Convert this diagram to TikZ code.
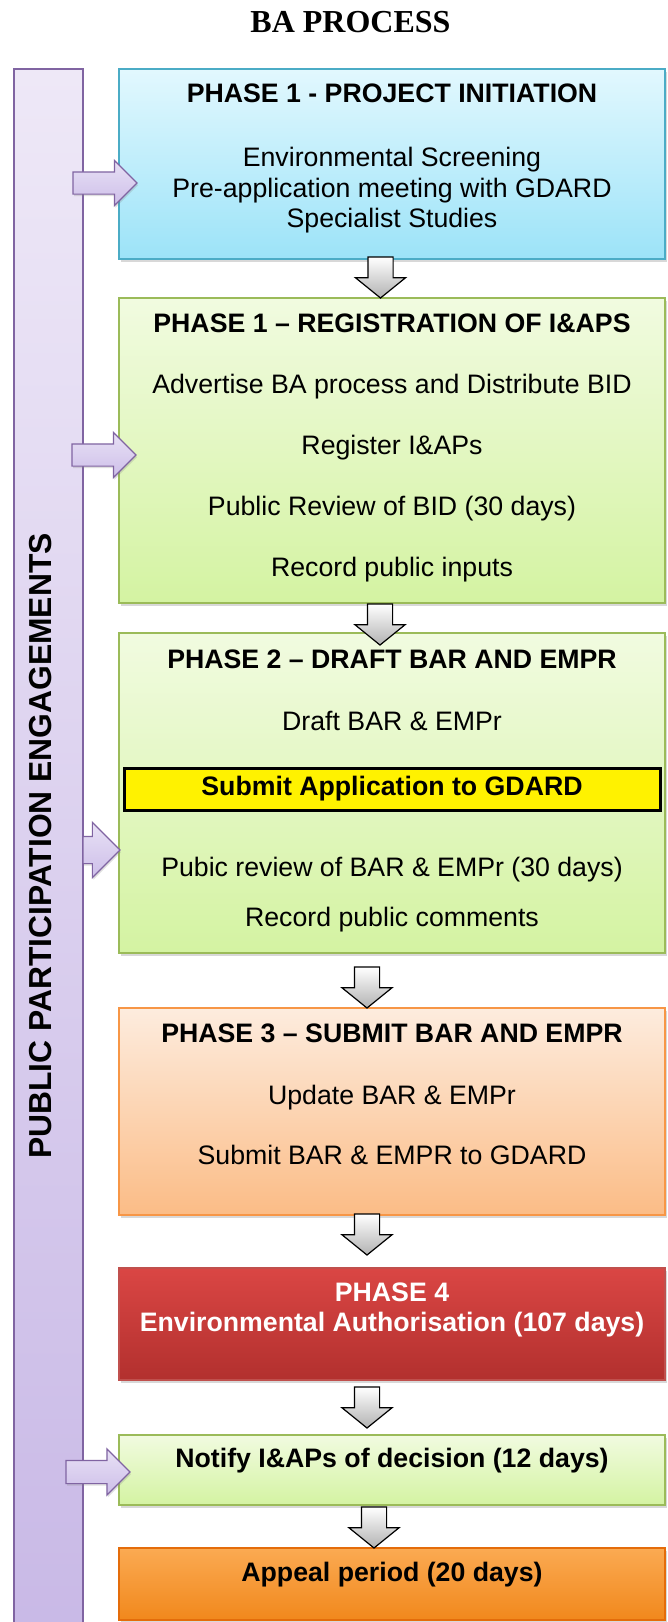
\documentclass[tikz,border=0pt]{standalone}
\usepackage{fontspec}
\setmainfont{Liberation Sans}
\newfontfamily\ttlfont{Liberation Serif}
\usetikzlibrary{positioning, calc, shapes.arrows, shadows}

\definecolor{ppeline}{RGB}{128,100,162}
\definecolor{ppetop}{RGB}{238,232,247}
\definecolor{ppebot}{RGB}{200,184,230}
\definecolor{arrtop}{RGB}{232,225,245}
\definecolor{arrbot}{RGB}{205,190,233}
\definecolor{blueline}{RGB}{75,172,198}
\definecolor{bluetop}{RGB}{226,248,254}
\definecolor{bluebot}{RGB}{156,227,248}
\definecolor{greenline}{RGB}{155,187,89}
\definecolor{greentop}{RGB}{241,251,224}
\definecolor{greenbot}{RGB}{212,243,162}
\definecolor{peachline}{RGB}{247,150,70}
\definecolor{peachtop}{RGB}{253,236,222}
\definecolor{peachbot}{RGB}{251,188,134}
\definecolor{redline}{RGB}{192,80,77}
\definecolor{redtop}{RGB}{218,70,68}
\definecolor{redbot}{RGB}{178,48,46}
\definecolor{orangeline}{RGB}{228,108,10}
\definecolor{orangetop}{RGB}{251,170,82}
\definecolor{orangebot}{RGB}{241,136,28}
\definecolor{flowbot}{RGB}{178,178,178}

\begin{document}
\begin{tikzpicture}[x=1pt, y=-1pt,
	phase/.style={draw, line width=1.5pt, minimum width=546pt, inner sep=0pt, outer sep=0pt,
		drop shadow={opacity=.3, shadow xshift=2pt, shadow yshift=-3pt}},
	phaseblue/.style={phase, draw=blueline, top color=bluetop, bottom color=bluebot},
	phasegreen/.style={phase, draw=greenline, top color=greentop, bottom color=greenbot},
	phasepeach/.style={phase, draw=peachline, top color=peachtop, bottom color=peachbot},
	phasered/.style={phase, draw=redline, top color=redtop, bottom color=redbot},
	phaseorange/.style={phase, draw=orangeline, top color=orangetop, bottom color=orangebot},
	txt/.style={align=center, inner sep=0pt, outer sep=0pt, font=\fontsize{26.7}{30.5}\selectfont},
	txtb/.style={txt, font=\bfseries\fontsize{26.7}{30}\selectfont},
	flow/.style={single arrow, shape border rotate=270, draw=black, line width=1.2pt,
		top color=white, bottom color=flowbot, minimum height=41pt, minimum width=49pt,
		single arrow head extend=12.5pt, single arrow tip angle=102, inner xsep=12pt, inner ysep=0pt, outer sep=0pt},
	ppearr/.style={single arrow, draw=ppeline, line width=1.2pt, top color=arrtop, bottom color=arrbot,
		minimum height=64pt, minimum width=44pt, single arrow head extend=11.5pt, inner xsep=0pt, inner ysep=10.5pt, outer sep=0pt,
		drop shadow={opacity=.25, shadow xshift=1pt, shadow yshift=-2pt}}]
	\path[use as bounding box, fill=white] (0,0) rectangle (668,1622);
	\node[font=\ttlfont\bfseries\fontsize{32}{36}\selectfont, anchor=base] (ttl) at (350.5,32) {BA PROCESS};

	% public participation column
	\node[draw=ppeline, line width=1.5pt, top color=ppetop, bottom color=ppebot, minimum width=69pt,
		minimum height=1600pt, anchor=north, outer sep=0pt] (ppe) at (48.5,69) {};
	\node[rotate=90, inner sep=0pt, font=\bfseries\fontsize{31.8}{36}\selectfont] (ppetxt) at (41,846) {PUBLIC PARTICIPATION ENGAGEMENTS};

	% phases
	\node[phaseblue, minimum height=190pt, anchor=north] (b1) at (392,69) {};
	\node[phasegreen, minimum height=305pt] (b2) [below=39pt of b1] {};
	\node[phasegreen, minimum height=320pt] (b3) [below=30pt of b2] {};
	\node[phasepeach, minimum height=207pt] (b4) [below=55pt of b3] {};
	\node[phasered, minimum height=112pt] (b5) [below=53pt of b4] {};
	\node[phasegreen, minimum height=70pt] (b6) [below=55pt of b5] {};
	\node[phaseorange, minimum height=72pt] (b7) [below=43pt of b6] {};

	\node[txtb, draw=black, line width=3pt, fill=yellow, minimum width=536pt, minimum height=42pt] (sub) [below=135pt of b3.north] {Submit Application to GDARD};

	\node[txt] (t1) [below=15pt of b1.north] {\textbf{PHASE 1 - PROJECT INITIATION}\\[33.5pt]Environmental Screening\\Pre-application meeting with GDARD\\Specialist Studies};
	\node[txt] (t2) [below=15.5pt of b2.north] {\textbf{PHASE 1 -- REGISTRATION OF I\&APS}\\[30.5pt]Advertise BA process and Distribute BID\\[30.5pt]Register I\&APs\\[30.5pt]Public Review of BID (30 days)\\[30.5pt]Record public inputs};
	\node[txt] (t3) [below=17pt of b3.north] {\textbf{PHASE 2 -- DRAFT BAR AND EMPR}\\[31.5pt]Draft BAR \& EMPr};
	\node[txt] (t3b) [below=224.5pt of b3.north] {Pubic review of BAR \& EMPr (30 days)\\[19.5pt]Record public comments};
	\node[txt] (t4) [below=15.5pt of b4.north] {\textbf{PHASE 3 -- SUBMIT BAR AND EMPR}\\[31.5pt]Update BAR \& EMPr\\[29.5pt]Submit BAR \& EMPR to GDARD};
	\node[txtb, text=white] (t5) [below=14.5pt of b5.north] {PHASE 4\\Environmental Authorisation (107 days)};
	\node[txtb] (t6) [below=13.5pt of b6.north] {Notify I\&APs of decision (12 days)};
	\node[txtb] (t7) [below=14.5pt of b7.north] {Appeal period (20 days)};

	% flow between phases
	\node[flow, anchor=tip] (d1) at ([xshift=-11.5pt]b2.north) {};
	\node[flow, anchor=tip] (d2) at ([xshift=-12pt, yshift=-12pt]b3.north) {};
	\node[flow, anchor=tip] (d3) at ([xshift=-25pt]b4.north) {};
	\node[flow, anchor=tip] (d4) at ([xshift=-25pt, yshift=13pt]b5.north) {};
	\node[flow, anchor=tip] (d5) at ([xshift=-25pt, yshift=7pt]b6.north) {};
	\node[flow, anchor=tip] (d6) at ([xshift=-18pt]b7.north) {};

	% engagement arrows
	\node[ppearr, anchor=tip] (p1) at ([xshift=18pt, yshift=-19pt]b1.west) {};
	\node[ppearr, anchor=tip] (p2) at ([xshift=17pt, yshift=-4.5pt]b2.west) {};
	\node[ppearr, anchor=tip, minimum height=37pt, minimum width=54pt, single arrow head extend=14pt, inner ysep=13pt] (p3) at ([xshift=1pt, yshift=-57pt]b3.west) {};
	\node[ppearr, anchor=tip, inner ysep=11pt] (p4) at ([xshift=11pt, yshift=-2pt]b6.west) {};
\end{tikzpicture}
\end{document}
